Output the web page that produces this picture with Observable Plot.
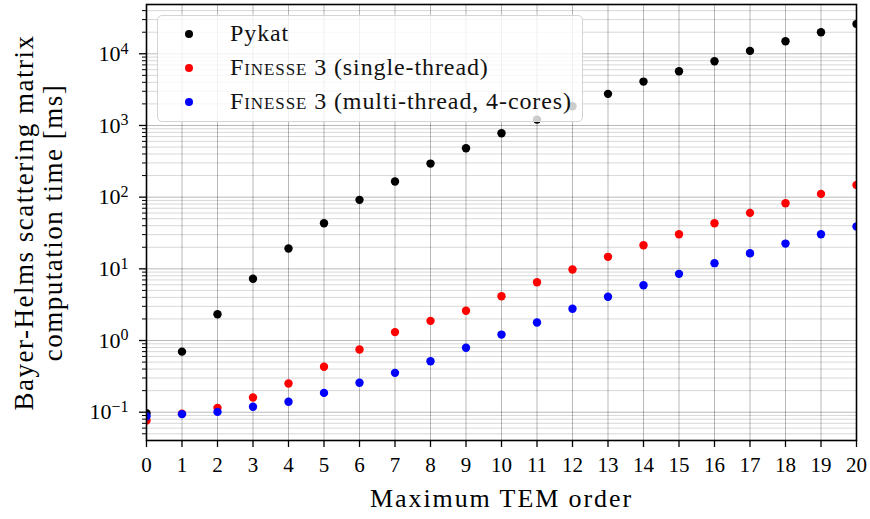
<!DOCTYPE html>
<html><head><meta charset="utf-8">
<script src="https://cdn.jsdelivr.net/npm/d3@7"></script>
<script src="https://cdn.jsdelivr.net/npm/@observablehq/plot@0.6"></script>
<style>
body{margin:0;background:#fff;}
#wrap{position:relative;width:870px;height:519px;font-family:"Liberation Serif","DejaVu Serif",serif;}
.legend{position:absolute;left:157px;top:15px;width:426px;height:107px;box-sizing:border-box;border:1.3px solid #d4d4d4;border-radius:5px;background:rgba(255,255,255,0.8);}
.row{position:absolute;left:72px;font-size:24px;line-height:24px;letter-spacing:0.9px;white-space:nowrap;color:#111;}
.dot{position:absolute;left:27px;width:8px;height:8px;border-radius:50%;}
.sc{font-variant:small-caps}
</style></head>
<body><div id="wrap"></div>
<script>
const orders = [0,1,2,3,4,5,6,7,8,9,10,11,12,13,14,15,16,17,18,19,20];
const pykat  = [0.097,0.70,2.33,7.26,19.2,43.3,91.7,165,294,481,778,1208,1853,2760,4094,5700,7860,10970,14940,19950,26100];
const single = [0.0766,0.095,0.115,0.160,0.251,0.430,0.749,1.31,1.88,2.60,4.15,6.50,9.78,14.7,21.3,30.4,43.3,60.4,82.2,111,148];
const multi  = [0.088,0.094,0.101,0.119,0.140,0.186,0.257,0.354,0.515,0.791,1.21,1.78,2.77,4.07,5.90,8.51,12.0,16.5,22.5,30.4,38.9];
const seriesNames  = ["Pykat","Finesse 3 (single-thread)","Finesse 3 (multi-thread, 4-cores)"];
const seriesColors = ["#000000","#ff0000","#0000ff"];
const xTicks = [0,1,2,3,4,5,6,7,8,9,10,11,12,13,14,15,16,17,18,19,20];
const yMajor = [0.1,1,10,100,1000,10000];
const yExponents = ["\u22121","0","1","2","3","4"];
const yDomain = [0.0403, 48700];
const xTitle = "Maximum TEM order";
const yTitle = "Bayer-Helms scattering matrix\ncomputation time [ms]";

const minor = [];
for (let k = -2; k <= 4; k++) for (let m = 2; m <= 9; m++) {
  const v = m * Math.pow(10, k);
  if (v >= yDomain[0] && v <= yDomain[1]) minor.push(v);
}

const data = [];
[pykat, single, multi].forEach((arr, s) => arr.forEach((v, i) => data.push({x: orders[i], y: v, s})));

const plot = Plot.plot({
  width: 870, height: 519,
  marginLeft: 146, marginRight: 14, marginTop: 4, marginBottom: 79,
  style: {fontFamily: '"Liberation Serif","DejaVu Serif",serif', fontSize: "22px", background: "white", color: "black"},
  x: {domain: [0, 20]},
  y: {type: "log", domain: yDomain},
  marks: [
    Plot.ruleY(minor, {stroke: "#000", strokeOpacity: 0.2, strokeWidth: 0.8}),
    Plot.ruleY(yMajor, {stroke: "#000", strokeOpacity: 0.35, strokeWidth: 0.8}),
    Plot.ruleX(xTicks, {stroke: "#000", strokeOpacity: 0.35, strokeWidth: 0.8}),
    Plot.axisX({ticks: xTicks, tickSize: 7, tickPadding: 10, tickFormat: d => String(d), fontSize: 21, label: null, strokeWidth: 1.3}),
    Plot.axisY({ticks: minor, tickSize: 4, tickFormat: () => "", label: null, strokeWidth: 1}),
    Plot.axisY({ticks: yMajor, tickSize: 7, tickPadding: 11, tickFormat: d => "10^" + yExponents[yMajor.indexOf(d)], fontSize: 22, label: null, strokeWidth: 1.3}),
    Plot.dot(data, {x: "x", y: "y", fill: d => seriesColors[d.s], r: 4.2, clip: true}),
    Plot.frame({stroke: "black", strokeWidth: 1.6}),
    Plot.text([xTitle], {frameAnchor: "bottom", dy: 66, fontSize: 26}),
    Plot.text([yTitle], {frameAnchor: "left", dx: -108, rotate: -90, textAnchor: "middle", fontSize: 27, lineHeight: 1.07})
  ]
});

// superscript exponents on y tick labels; letter spacing on axis titles
d3.select(plot).selectAll("text").each(function() {
  const t = this.textContent;
  const el = d3.select(this);
  if (t.startsWith("10^")) {
    const exp = t.slice(3);
    el.text("");
    el.append("tspan").text("10");
    el.append("tspan").attr("dy", "-0.45em").attr("font-size", "16px").text(exp);
  } else if (t.startsWith("Maximum")) {
    el.style("letter-spacing", "1.9px");
  } else if (t.startsWith("Bayer")) {
    el.style("letter-spacing", "1.5px");
  }
});

const wrap = document.getElementById("wrap");
wrap.appendChild(plot);

const leg = document.createElement("div");
leg.className = "legend";
seriesNames.forEach((name, i) => {
  const dot = document.createElement("div");
  dot.className = "dot";
  dot.style.top = (14 + i * 34) + "px";
  dot.style.background = seriesColors[i];
  leg.appendChild(dot);
  const row = document.createElement("div");
  row.className = "row";
  row.style.top = (5 + i * 34) + "px";
  if (name.startsWith("Finesse")) {
    row.innerHTML = 'F<span class="sc">inesse</span>' + name.slice(7);
  } else row.textContent = name;
  leg.appendChild(row);
});
wrap.appendChild(leg);
</script>
</body></html>
